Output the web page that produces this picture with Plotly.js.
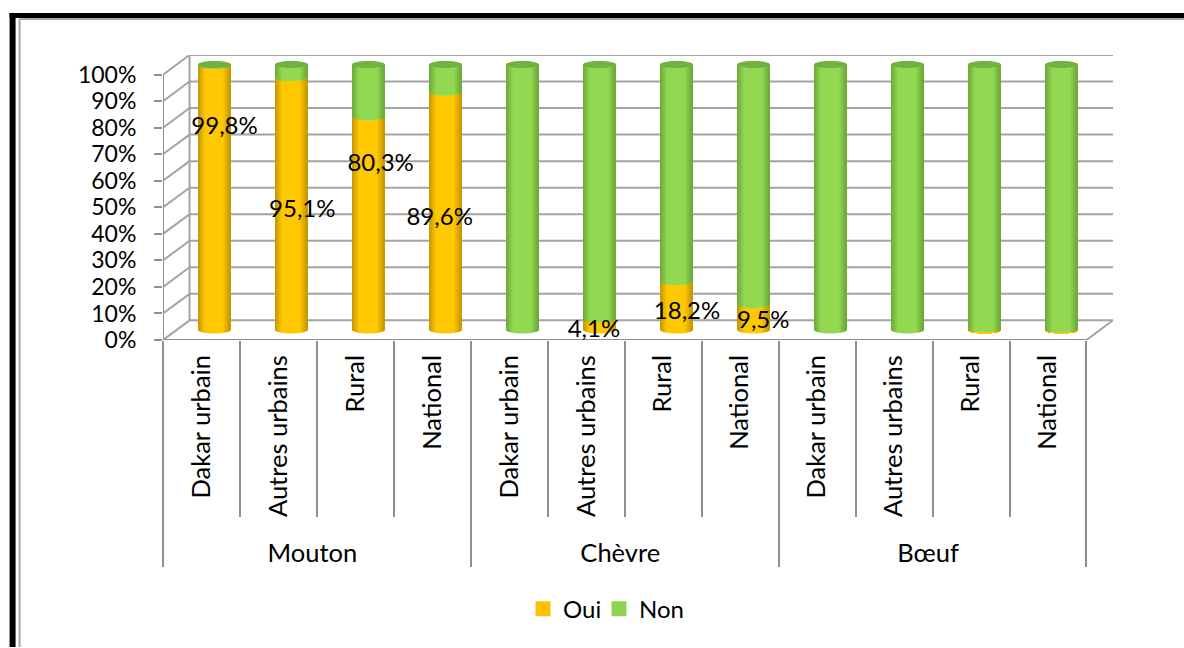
<!DOCTYPE html>
<html>
<head>
<meta charset="utf-8">
<script src="https://cdn.plot.ly/plotly-3.0.1.min.js"></script>
<style>html,body{margin:0;padding:0;background:#fff}#chart{width:1184px;height:648px}</style>
</head>
<body>
<div id="chart"></div>
<script>
// Livestock groups and survey strata
const groups = ["Mouton","Mouton","Mouton","Mouton","Chèvre","Chèvre","Chèvre","Chèvre","Bœuf","Bœuf","Bœuf","Bœuf"];
const strata = ["Dakar urbain","Autres urbains","Rural","National","Dakar urbain","Autres urbains","Rural","National","Dakar urbain","Autres urbains","Rural","National"];

// Share of households answering each way, in percent
const oui = [99.8,95.1,80.3,89.6,0,4.1,18.2,9.5,0,0,0.5,0.3];
const non = [0.2,4.9,19.7,10.4,100,95.9,81.8,90.5,100,100,99.5,99.7];

// Printed value labels and where each one sits (category units, percent height)
const labelText = ["99,8%","95,1%","80,3%","89,6%","4,1%","18,2%","9,5%"];
const labelX = [0.3,1.31,2.328,3.095,5.1,6.31,7.3];
const labelY = [79.8,48.8,66,45.7,3.5,10.3,6.6];

const yTicks = [0,10,20,30,40,50,60,70,80,90,100];
const yTickText = yTicks.map(v => v + "%");

// Oblique projection of the chart box: how far the back wall is displaced
const depthX = 0.345, depthY = 7.4;
const midDepthX = 0.17, midDepthY = 3.8;
const firstX = -0.5, lastX = 11.5;
const xRange = [firstX, lastX + depthX];
const yRange = [0, 100 + depthY];

const gridColor = "#a3a3a3";
const axisColor = "#8f8f8f";
const ruleWidth = 2;

const traces = [];
const index = oui.map((_, i) => i);

// Carries the two-level category axis; the leading blank pushes the group row further down
const paddedStrata = strata.map(s => "\u00a0" + s);
traces.push({type:"bar", x:[groups, paddedStrata], y:oui.map(() => null), xaxis:"x", yaxis:"y",
  showlegend:false, hoverinfo:"skip"});

// Box wireframe: back wall grid, left wall diagonals, floor
function wire(xs, ys, color) {
  traces.push({type:"scatter", mode:"lines", x:xs, y:ys, xaxis:"x2", yaxis:"y", cliponaxis:false,
    line:{color:color, width:ruleWidth}, showlegend:false, hoverinfo:"skip"});
}
yTicks.forEach(v => {
  wire([firstX + depthX, lastX + depthX], [v + depthY, v + depthY], gridColor);
  wire([firstX, firstX + depthX], [v, v + depthY], gridColor);
});
wire([firstX + depthX, firstX + depthX], [depthY, 100 + depthY], gridColor);
wire([lastX, lastX + depthX], [0, depthY], gridColor);
wire([firstX, firstX], [0, 100], axisColor);
wire([firstX, lastX], [0, 0], axisColor);

// Cylinders are built from thin vertical strips, shaded across their width
const stripCount = 32;
const barWidth = 0.416;
const capRise = 1.3;
function shade(rgbEdge, rgbMid, u) {
  const t = Math.min(1, (1 - Math.abs(u)) / 0.45);
  const c = rgbEdge.map((e, k) => Math.round(e + (rgbMid[k] - e) * t));
  return "rgb(" + c.join(",") + ")";
}
const ouiEdge = [196,150,0],  ouiMid = [255,200,0];
const nonEdge = [106,168,56], nonMid = [146,216,80];
const capColor = "rgb(112,178,64)";
for (let s = 0; s < stripCount; s++) {
  const w = barWidth / stripCount;
  const u = (s + 0.5) / stripCount * 2 - 1;
  const arc = capRise * Math.sqrt(1 - u * u);
  const off = -barWidth / 2 + s * w + midDepthX;
  const strip = (vals, bases, color) => traces.push({
    type:"bar", x:index, y:vals, base:bases, offset:off, width:w, xaxis:"x3", yaxis:"y", opacity:1,
    marker:{color:color, opacity:1, line:{width:0}}, showlegend:false, hoverinfo:"skip"});
  strip(oui, oui.map(() => midDepthY - arc), shade(ouiEdge, ouiMid, u));
  strip(non, oui.map(v => midDepthY + v - arc), shade(nonEdge, nonMid, u));
  strip(non.map(() => 2 * arc), oui.map((v, i) => midDepthY + v + non[i] - arc), capColor);
}

// Value labels
traces.push({type:"scatter", mode:"text", x:labelX, y:labelY, text:labelText, xaxis:"x3", yaxis:"y",
  cliponaxis:false, textposition:"middle center", textfont:{family:"Lato", size:24, color:"#000"},
  showlegend:false, hoverinfo:"skip"});

// Legend entries; the blank third one keeps the row wide enough for "Non"
traces.push({type:"scatter", mode:"markers", name:"Oui", x:[null], y:[null], xaxis:"x3", yaxis:"y",
  marker:{color:"#ffc000", symbol:"square", size:15}});
traces.push({type:"scatter", mode:"markers", name:"Non", x:[null], y:[null], xaxis:"x3", yaxis:"y",
  marker:{color:"#92d050", symbol:"square", size:15}});
traces.push({type:"scatter", mode:"markers", name:"\u00a0", x:[null], y:[null], xaxis:"x3", yaxis:"y",
  marker:{color:"rgba(0,0,0,0)", symbol:"square", size:15}});

const marginL = 162.5, marginB = 307.5, marginT = 55, marginR = 71;
const plotW = 1184 - marginL - marginR, plotH = 648 - marginT - marginB;
const px = v => (v - marginL) / plotW;
const py = v => (648 - marginB - v) / plotH;

const layout = {
  width:1184, height:648,
  margin:{l:marginL, r:marginR, t:marginT, b:marginB, pad:0, autoexpand:false},
  paper_bgcolor:"#fff", plot_bgcolor:"rgba(0,0,0,0)",
  font:{family:"Lato", size:24, color:"#000"},
  barmode:"overlay",
  showlegend:true,
  legend:{orientation:"h", x:523/1184, xref:"container", xanchor:"left", y:py(610), yanchor:"middle",
    font:{family:"Lato", size:24}, traceorder:"normal", bgcolor:"rgba(0,0,0,0)",
    entrywidth:31, entrywidthmode:"pixels"},
  xaxis:{type:"multicategory", range:xRange, ticks:"outside", ticklen:176, tickwidth:ruleWidth, tickcolor:axisColor,
    tickangle:-90, ticklabelstandoff:9, showline:false, showgrid:false, zeroline:false,
    showdividers:true, dividercolor:axisColor, dividerwidth:ruleWidth,
    tickfont:{family:"Lato", size:25.5}, automargin:false},
  xaxis2:{type:"linear", range:xRange, overlaying:"x", anchor:"y", visible:false},
  xaxis3:{type:"linear", range:xRange, overlaying:"x", anchor:"y", visible:false},
  yaxis:{range:yRange, tickvals:yTicks, ticktext:yTickText, ticks:"outside", ticklen:8, tickwidth:ruleWidth, tickcolor:axisColor,
    ticklabelstandoff:13, showline:false, showgrid:false, zeroline:false,
    tickfont:{family:"Lato", size:23}, automargin:false},
  shapes:[
    // Page frame: heavy black rule with a fine gray rule inside it
    {type:"rect", xref:"paper", yref:"paper", x0:px(9), x1:px(15), y0:py(648), y1:py(13), fillcolor:"#000", line:{width:0}},
    {type:"rect", xref:"paper", yref:"paper", x0:px(9), x1:px(1184), y0:py(18), y1:py(13), fillcolor:"#000", line:{width:0}},
    {type:"line", xref:"paper", yref:"paper", x0:px(19), x1:px(19), y0:py(648), y1:py(19), line:{color:"#a6a6a6", width:2}},
    {type:"line", xref:"paper", yref:"paper", x0:px(19), x1:px(1184), y0:py(19), y1:py(19), line:{color:"#a6a6a6", width:2}}
  ]
};

Plotly.newPlot("chart", traces, layout, {displayModeBar:false});
</script>
</body>
</html>
